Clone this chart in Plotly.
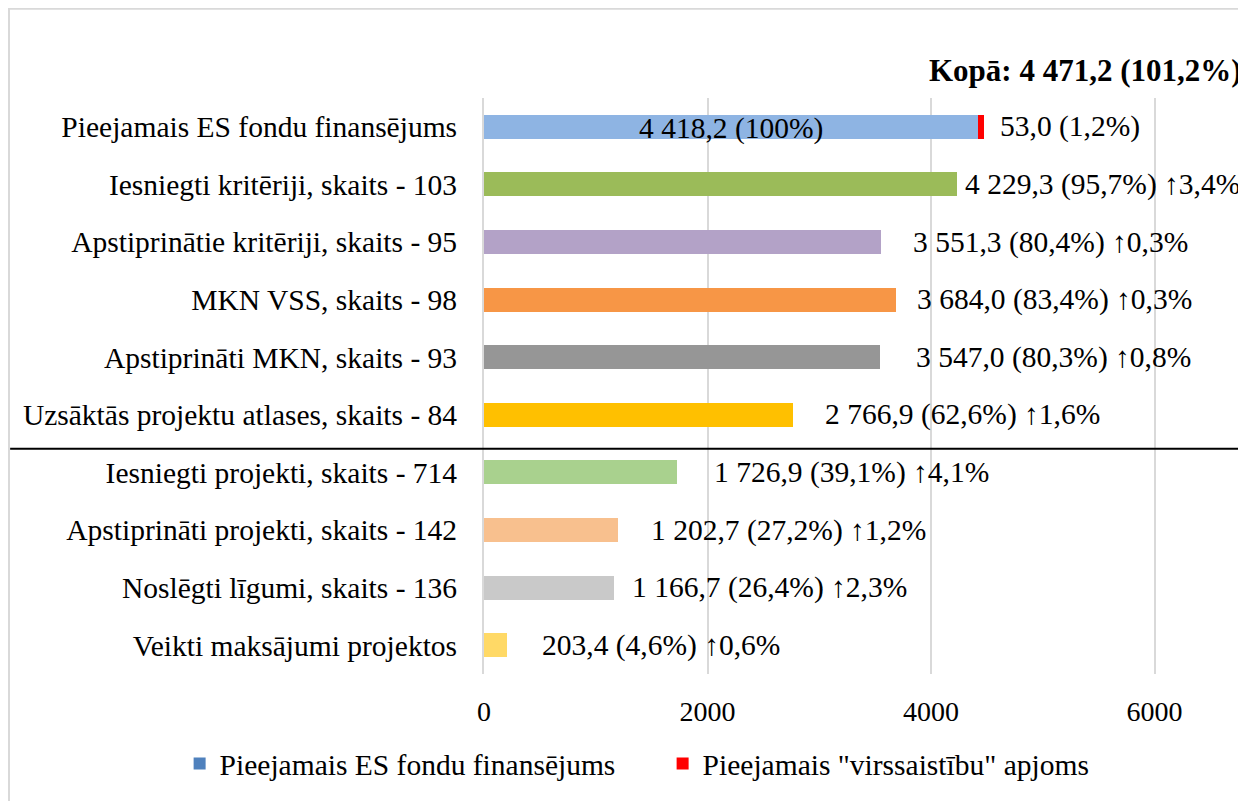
import plotly.graph_objects as go

categories = [
    "Pieejamais ES fondu finansējums",
    "Iesniegti kritēriji, skaits - 103",
    "Apstiprinātie kritēriji, skaits - 95",
    "MKN VSS, skaits - 98",
    "Apstiprināti MKN, skaits - 93",
    "Uzsāktās projektu atlases, skaits - 84",
    "Iesniegti projekti, skaits - 714",
    "Apstiprināti projekti, skaits - 142",
    "Noslēgti līgumi, skaits - 136",
    "Veikti maksājumi projektos",
]
values = [4418.2, 4229.3, 3551.3, 3684.0, 3547.0, 2766.9, 1726.9, 1202.7, 1166.7, 203.4]
overcommitment = [53.0, 0, 0, 0, 0, 0, 0, 0, 0, 0]
value_labels = [
    "53,0 (1,2%)",
    "4 229,3 (95,7%) ↑3,4%",
    "3 551,3 (80,4%) ↑0,3%",
    "3 684,0 (83,4%) ↑0,3%",
    "3 547,0 (80,3%) ↑0,8%",
    "2 766,9 (62,6%) ↑1,6%",
    "1 726,9 (39,1%) ↑4,1%",
    "1 202,7 (27,2%) ↑1,2%",
    "1 166,7 (26,4%) ↑2,3%",
    "203,4 (4,6%) ↑0,6%",
]
inside_label = "4 418,2 (100%)"
total_label = "Kopā: 4 471,2 (101,2%)"
series_names = ["Pieejamais ES fondu finansējums", 'Pieejamais "virssaistību" apjoms']
x_ticks = [0, 2000, 4000, 6000]

# styles
bar_colors = ["#8EB4E3", "#9BBB59", "#B3A2C7", "#F79646", "#969696",
              "#FFC000", "#A9D18E", "#F8C08E", "#C9C9C9", "#FFD966"]
legend_colors = ["#4F81BD", "#FF0000"]
label_shift = [14, 6, 30, 19, 34, 30, 35, 31, 16, 33]
FONT = "Liberation Serif, Times New Roman, serif"

fig = go.Figure()
fig.add_trace(go.Bar(
    y=categories, x=values, orientation="h",
    marker=dict(color=bar_colors, line=dict(width=0)),
    width=0.417, showlegend=False, hoverinfo="x+y",
))
fig.add_trace(go.Bar(
    y=categories, x=overcommitment, orientation="h",
    marker=dict(color="#FF0000", line=dict(width=0)),
    width=0.417, showlegend=False, hoverinfo="x+y",
))
for name, col in zip(series_names, legend_colors):
    fig.add_trace(go.Bar(
        y=[categories[0]], x=[0], orientation="h", name=name,
        marker=dict(color=col, line=dict(width=0)), hoverinfo="skip",
    ))

# data labels
for i, (cat, v, o, lab) in enumerate(zip(categories, values, overcommitment, value_labels)):
    fig.add_annotation(
        x=v + o, y=cat, text=lab, showarrow=False, xanchor="left",
        xshift=label_shift[i], font=dict(family=FONT, size=29.5, color="#000000"),
    )
fig.add_annotation(
    x=values[0] / 2, y=categories[0], text=inside_label, showarrow=False,
    xanchor="center", yshift=-2, font=dict(family=FONT, size=29.5, color="#000000"),
)
fig.add_annotation(
    x=1.0, xref="paper", y=1.0486, yref="paper", text="<b>" + total_label + "</b>",
    showarrow=False, xanchor="right", yanchor="middle",
    font=dict(family=FONT, size=31, color="#000000"),
)

# separator line between groups
fig.add_shape(type="line", xref="paper", yref="y", x0=-0.6235, x1=1.02, y0=5.59, y1=5.59,
              line=dict(color="#000000", width=2))
# chart border
fig.add_shape(type="rect", xref="paper", yref="paper", x0=-0.6250, x1=1.05, y0=-0.4, y1=1.155,
              line=dict(color="#D9D9D9", width=2), fillcolor="rgba(0,0,0,0)", layer="below")

fig.update_layout(
    width=1238, height=793,
    margin=dict(l=476, r=2, t=90, b=127),
    paper_bgcolor="#FFFFFF", plot_bgcolor="#FFFFFF",
    barmode="stack",
    font=dict(family=FONT, size=29, color="#000000"),
    xaxis=dict(range=[0, 6800], tickvals=x_ticks, ticktext=[str(t) for t in x_ticks],
               showgrid=True, gridcolor="#D9D9D9", gridwidth=2, zeroline=False,
               showline=False, ticks="", ticklabelstandoff=18,
               tickfont=dict(family=FONT, size=28, color="#000000")),
    yaxis=dict(categoryorder="array", categoryarray=categories, range=[9.5, -0.5],
               showgrid=False, zeroline=False, showline=True, linecolor="#D9D9D9", linewidth=2,
               ticks="", ticklabelstandoff=19,
               tickfont=dict(family=FONT, size=29.5, color="#000000")),
    legend=dict(orientation="h", x=-0.4005, xanchor="left", y=-0.156, yanchor="middle",
                entrywidth=438, entrywidthmode="pixels",
                font=dict(family=FONT, size=29.5, color="#000000"),
                traceorder="normal", bgcolor="rgba(0,0,0,0)"),
    showlegend=True,
)

fig.write_html("out.html")
